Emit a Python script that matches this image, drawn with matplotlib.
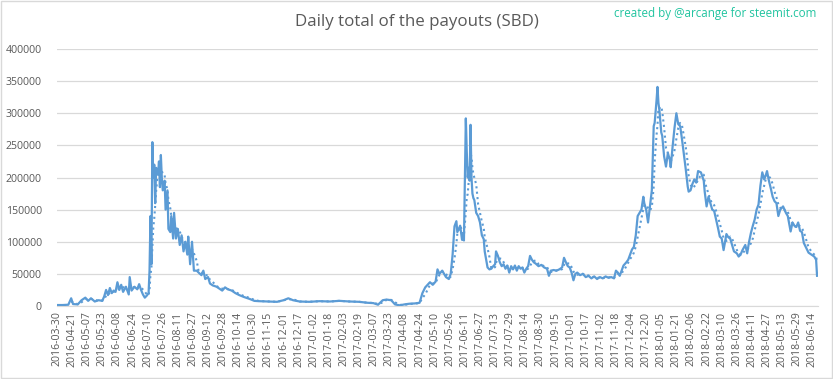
import matplotlib
matplotlib.use("Agg")
import matplotlib.pyplot as plt
from matplotlib.patches import Rectangle
import numpy as np

# ---- data (category index = position in the daily series, value = SBD) ----
day_idx = [
    0, 6, 12, 15, 17, 22, 26, 30, 33, 36, 40, 44, 48, 50, 52, 54, 56, 58, 60, 62,
    64, 66, 68, 70, 73, 76, 77, 79, 82, 85, 87, 89, 91, 93, 95, 97, 98, 99, 100, 101,
    102, 103, 104, 105, 107, 108, 109, 110, 111, 112, 114, 115, 117, 118, 120, 121, 123, 124, 126, 128,
    130, 132, 134, 136, 138, 139, 141, 143, 145, 148, 150,
    153, 155, 157, 160, 162, 165, 169, 172, 175, 178, 181, 185, 189, 193, 198, 204, 209, 214, 225, 233,
    240, 245, 250, 257, 267, 278, 289, 299, 310, 320, 329, 335, 340, 345, 349, 354, 358, 363, 368, 373,
    379, 384,
    387, 390, 395, 398, 401, 403, 405, 408, 412, 415, 417, 419, 421, 423, 424, 427, 429, 430, 431, 433,
    434, 435, 436, 437, 438, 439, 440, 441, 442, 444, 446, 448, 450, 452, 453, 456, 458, 460, 462, 464,
    465, 467, 469, 471, 473, 475, 477, 479, 481, 483, 485, 487, 489, 491, 493, 495, 497, 499, 501, 503,
    505, 507, 510, 513, 516, 519, 521, 523, 526, 529, 532, 535, 537, 539, 541, 543, 545, 547, 549, 551,
    554, 557, 560, 563, 566, 569, 572, 575, 578, 581, 584, 587, 590, 592, 594, 596, 598, 600, 603, 605,
    607, 609, 611, 613, 615, 617, 619, 621, 622, 624, 626, 628, 630, 632, 633, 635, 636, 637, 638, 640,
    641, 643, 645, 647, 649, 650, 652, 654, 656, 658, 660, 662, 664, 666, 668, 669, 671, 673, 675, 677,
    679, 682, 685, 686, 688, 690, 692, 694, 696, 698, 700, 702, 704, 706, 709, 711, 713, 715, 717, 720,
    722, 724, 726, 729, 731, 733, 735, 737, 739, 741, 743, 745, 747, 749, 751, 752, 754, 756, 758, 760,
    762, 764, 766, 769, 772, 774, 777, 779, 781, 783, 785, 787, 789, 791, 793, 796, 799, 802, 804, 805,
]
payout_sbd = [
    1500, 1500, 2000, 12000, 3000, 2500, 9000, 13000, 8000, 12000, 7000, 9000, 8000, 15000, 25000, 17000, 28000, 20000, 24000, 22000,
    37000, 25000, 33000, 22000, 30000, 18000, 45000, 24000, 30000, 26000, 34000, 25000, 18000, 13000, 16000, 20000, 55000, 140000, 65000, 255000,
    200000, 220000, 160000, 215000, 205000, 225000, 185000, 235000, 200000, 180000, 195000, 150000, 180000, 120000, 115000, 140000, 105000, 145000, 105000, 120000,
    95000, 110000, 85000, 100000, 80000, 108000, 65000, 100000, 55000, 55000, 52000,
    48000, 55000, 42000, 45000, 35000, 32000, 30000, 27000, 24000, 29000, 26000, 24000, 20000, 17000, 14000, 11000, 8000, 7500, 7000, 6500,
    9000, 12000, 9000, 7000, 6500, 7500, 7000, 8000, 7000, 6500, 5000, 4500, 2000, 9000, 10000, 9000, 2500, 1000, 2500, 3500,
    4000, 5000,
    20000, 29000, 37000, 33000, 38000, 57000, 50000, 55000, 45000, 42000, 50000, 80000, 124000, 132000, 115000, 125000, 103000, 110000, 102000, 292000,
    240000, 200000, 215000, 195000, 282000, 200000, 175000, 168000, 165000, 145000, 140000, 130000, 110000, 104000, 85000, 60000, 57000, 58000, 62000, 65000,
    85000, 78000, 68000, 62000, 65000, 58000, 63000, 52000, 62000, 57000, 63000, 55000, 62000, 58000, 60000, 52000, 58000, 62000, 78000, 72000,
    68000, 66000, 62000, 64000, 60000, 58000, 47000, 55000, 56000, 55000, 57000, 60000, 75000, 68000, 62000, 60000, 52000, 40000, 50000, 52000,
    48000, 50000, 45000, 47000, 43000, 46000, 42000, 45000, 43000, 46000, 44000, 45000, 43000, 55000, 52000, 47000, 55000, 63000, 68000, 72000,
    80000, 88000, 92000, 110000, 140000, 145000, 150000, 170000, 160000, 150000, 130000, 155000, 180000, 280000, 285000, 320000, 341000, 316000, 305000, 270000,
    265000, 233000, 217000, 238000, 228000, 216000, 248000, 277000, 300000, 283000, 280000, 259000, 236000, 212000, 186000, 178000, 180000, 190000, 197000, 192000,
    210000, 208000, 195000, 178000, 155000, 170000, 160000, 150000, 148000, 135000, 122000, 108000, 105000, 87000, 112000, 107000, 105000, 95000, 85000, 82000,
    77000, 80000, 87000, 95000, 82000, 100000, 114000, 125000, 135000, 150000, 158000, 187000, 208000, 197000, 205000, 210000, 195000, 183000, 170000, 163000,
    160000, 140000, 150000, 155000, 145000, 140000, 116000, 130000, 125000, 123000, 130000, 117000, 115000, 98000, 92000, 83000, 80000, 77000, 72000, 47000,
]
tick_labels = [
    "2016-03-30", "2016-04-21", "2016-05-07", "2016-05-23", "2016-06-08", "2016-06-24",
    "2016-07-10", "2016-07-26", "2016-08-11", "2016-08-27", "2016-09-12", "2016-09-28",
    "2016-10-14", "2016-10-30", "2016-11-15", "2016-12-01", "2016-12-17", "2017-01-02",
    "2017-01-18", "2017-02-03", "2017-02-19", "2017-03-07", "2017-03-23", "2017-04-08",
    "2017-04-24", "2017-05-10", "2017-05-26", "2017-06-11", "2017-06-27", "2017-07-13",
    "2017-07-29", "2017-08-14", "2017-08-30", "2017-09-15", "2017-10-01", "2017-10-17",
    "2017-11-02", "2017-11-18", "2017-12-04", "2017-12-20", "2018-01-05", "2018-01-21",
    "2018-02-06", "2018-02-22", "2018-03-10", "2018-03-26", "2018-04-11", "2018-04-27",
    "2018-05-13", "2018-05-29", "2018-06-14",
]
label_step = 16
ma_period = 7

# trailing moving average (like the Excel trendline)
k = np.array(day_idx, dtype=float)
v = np.array(payout_sbd, dtype=float)
trend = np.array([v[(k > k[i] - ma_period) & (k <= k[i])].mean() for i in range(len(k))])

plt.rcParams['font.family'] = ['Open Sans', 'DejaVu Sans']

W, H = 833, 379
fig = plt.figure(figsize=(W / 100, H / 100), dpi=100)
ax = fig.add_axes([57 / W, 1 - 306 / H, (818 - 57) / W, (306 - 49) / H])

blue = '#5B9BD5'
ax.plot(k, v, color=blue, lw=1.6, solid_joinstyle='round', zorder=3)
ax.plot(k[ma_period // 2:], trend[ma_period // 2:], color=blue, lw=1.5,
        ls=(0, (1, 1.6)), zorder=2)

ax.set_xlim(0, 806)
ax.set_ylim(0, 400000)
ax.set_yticks(np.arange(0, 400001, 50000))
ax.set_yticklabels([str(t) for t in range(0, 400001, 50000)])
ax.set_xticks([label_step * j for j in range(len(tick_labels))])
ax.set_xticklabels(tick_labels, rotation=90)

ax.grid(axis='y', color='#D9D9D9', lw=0.9)
ax.set_axisbelow(True)
for s in ['top', 'right', 'left']:
    ax.spines[s].set_visible(False)
ax.spines['bottom'].set_color('#D9D9D9')
ax.tick_params(axis='both', length=0, colors='#595959')
ax.tick_params(axis='y', labelsize=7.6, pad=11)
ax.tick_params(axis='x', labelsize=7.6, pad=4)

fig.text(0.5, 1 - 22 / H, 'Daily total of the payouts (SBD)', ha='center', va='center',
         fontsize=12.2, color='#595959')
fig.text(816 / W, 1 - 14 / H, 'created by @arcange for steemit.com', ha='right', va='center',
         fontsize=8.4, color='#22C4A0')

fig.add_artist(Rectangle((0.6 / W, 0.6 / H), 1 - 1.8 / W, 1 - 1.8 / H, transform=fig.transFigure,
                         fill=False, edgecolor='#D9D9D9', lw=1))

fig.savefig('out.png', dpi=100)
